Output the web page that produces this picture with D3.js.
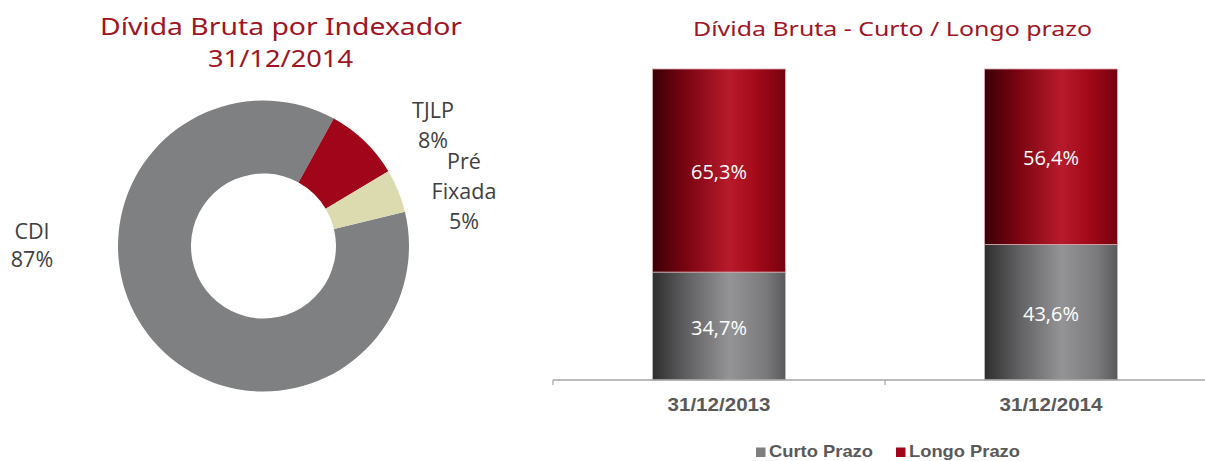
<!DOCTYPE html>
<html>
<head>
<meta charset="utf-8">
<script src="https://cdn.jsdelivr.net/npm/d3@7"></script>
<style>
  body { margin: 0; background: #fff; }
  svg { display: block; }
  .title { fill: #a01424; font-family: "Noto Sans", sans-serif; }
  .slice_lbl { fill: #404040; font-family: "Open Sans", sans-serif; font-size: 21.5px; }
  .bar_lbl { fill: #fff; font-family: "Open Sans", sans-serif; font-size: 20px; }
  .cat_lbl, .leg_lbl { fill: #595959; font-family: "Liberation Sans", Arial, sans-serif; font-weight: bold; }
</style>
</head>
<body>
<div id="chart"></div>
<script>
// donut: debt by index
var indexNames = ["CDI", "TJLP", "Pré Fixada"];
var indexShares = [86.8, 8.4, 4.8];
var indexLabels = [["CDI", "87%"], ["TJLP", "8%"], ["Pré", "Fixada", "5%"]];
var indexColors = ["#7f8082", "#a00519", "#dcdbb0"];

// stacked bars: short / long term
var dates = ["31/12/2013", "31/12/2014"];
var seriesNames = ["Curto Prazo", "Longo Prazo"];
var curtoPrazo = [34.7, 43.6];
var longoPrazo = [65.3, 56.4];

var W = 1205, H = 461;
var svg = d3.select("#chart").append("svg").attr("width", W).attr("height", H);

// gradients for the cylinder look
var defs = svg.append("defs");
function grad(id, stops) {
  var g = defs.append("linearGradient").attr("id", id)
    .attr("x1", "0%").attr("x2", "100%").attr("y1", "0%").attr("y2", "0%");
  stops.forEach(s => g.append("stop").attr("offset", s[0]).attr("stop-color", s[1]));
}
grad("g_curto", [["0%", "#2e2e2e"], ["25%", "#5f5f61"], ["58%", "#949496"], ["85%", "#7a7a7c"], ["100%", "#5a5a5c"]]);
grad("g_longo", [["0%", "#3a0006"], ["25%", "#7a0412"], ["58%", "#b81b2b"], ["80%", "#a00818"], ["100%", "#76020f"]]);

function title(txt, x, y, size, len) {
  svg.append("text").attr("class", "title").attr("text-anchor", "middle")
    .attr("x", x).attr("y", y).style("font-size", size + "px")
    .attr("textLength", len).attr("lengthAdjust", "spacingAndGlyphs")
    .text(txt);
}

// ---- left: donut ----
var cx = 263.5, cy = 246, rOut = 145.5, rIn = 72.5;
var pie = d3.pie().sort(null).value(d => d)
  .startAngle(76.4 * Math.PI / 180).endAngle((76.4 + 360) * Math.PI / 180);
var arc = d3.arc().innerRadius(rIn).outerRadius(rOut);
var donut = svg.append("g").attr("transform", "translate(" + cx + "," + cy + ")");
donut.selectAll("path")
  .data(pie(indexShares))
  .enter()
  .append("path")
  .attr("d", arc)
  .attr("fill", (d, i) => indexColors[i])
  .attr("title", (d, i) => indexNames[i]);

// slice labels placed like the original (outside the ring)
var lblPos = [[32, 239, 28], [433, 118, 30], [464, 169, 30]];
indexLabels.forEach((lines, i) => {
  var t = svg.append("text").attr("class", "slice_lbl").attr("text-anchor", "middle")
    .attr("x", lblPos[i][0]).attr("y", lblPos[i][1]);
  lines.forEach((s, j) => {
    t.append("tspan").attr("x", lblPos[i][0]).attr("dy", j == 0 ? 0 : lblPos[i][2]).text(s);
  });
});

title("Dívida Bruta por Indexador", 281, 35, 24, 362);
title("31/12/2014", 280.5, 66.5, 24, 145);

// ---- right: stacked bars ----
var x = d3.scaleBand().domain(dates).range([553, 1217]).paddingInner(0.6).paddingOuter(0.3);
var y = d3.scaleLinear().domain([0, 100]).range([380, 69]);

var rows = dates.map((d, i) => ({ date: d, curto: curtoPrazo[i], longo: longoPrazo[i] }));
var stack = d3.stack().keys(["curto", "longo"])(rows);
var fills = ["url(#g_curto)", "url(#g_longo)"];
var strokes = ["#b9b9b9", "#d9a9ae"];

stack.forEach((layer, k) => {
  svg.selectAll(".bar" + k)
    .data(layer)
    .enter()
    .append("rect")
    .attr("class", "bar" + k)
    .attr("x", d => x(d.data.date))
    .attr("y", d => y(d[1]))
    .attr("width", x.bandwidth())
    .attr("height", d => y(d[0]) - y(d[1]))
    .attr("fill", fills[k])
    .attr("stroke", strokes[k])
    .attr("stroke-width", 0.8);
  svg.selectAll(".bar_lbl" + k)
    .data(layer)
    .enter()
    .append("text")
    .attr("class", "bar_lbl")
    .attr("text-anchor", "middle")
    .attr("x", d => x(d.data.date) + x.bandwidth() / 2)
    .attr("y", d => (y(d[0]) + y(d[1])) / 2 + 8.5)
    .text(d => d3.format(".1f")(d[1] - d[0]).replace(".", ",") + "%");
});

// axis line with ticks between categories
var axis = svg.append("g").attr("transform", "translate(0,380)");
axis.append("line").attr("x1", 553).attr("x2", W).attr("stroke", "#a6a6a6").attr("stroke-width", 1.5);
[553, 885].forEach(tx => {
  axis.append("line").attr("x1", tx).attr("x2", tx).attr("y1", 0).attr("y2", 5)
    .attr("stroke", "#a6a6a6").attr("stroke-width", 1.2);
});
svg.selectAll(".cat_lbl")
  .data(dates)
  .enter()
  .append("text")
  .attr("class", "cat_lbl")
  .attr("text-anchor", "middle")
  .attr("x", d => x(d) + x.bandwidth() / 2)
  .attr("y", 411)
  .style("font-size", "19px")
  .attr("textLength", 103).attr("lengthAdjust", "spacingAndGlyphs")
  .text(d => d);

title("Dívida Bruta - Curto / Longo prazo", 892.5, 36, 20, 399);

// legend
var legColors = ["#7f7f7f", "#a00519"];
var legX = [756, 896];
seriesNames.forEach((s, i) => {
  svg.append("rect").attr("x", legX[i]).attr("y", 447.5).attr("width", 9.5).attr("height", 9.5)
    .attr("fill", legColors[i]);
  svg.append("text").attr("class", "leg_lbl").attr("x", legX[i] + 13).attr("y", 457)
    .style("font-size", "17px")
    .attr("textLength", [104, 111][i]).attr("lengthAdjust", "spacingAndGlyphs")
    .text(s);
});
</script>
</body>
</html>
